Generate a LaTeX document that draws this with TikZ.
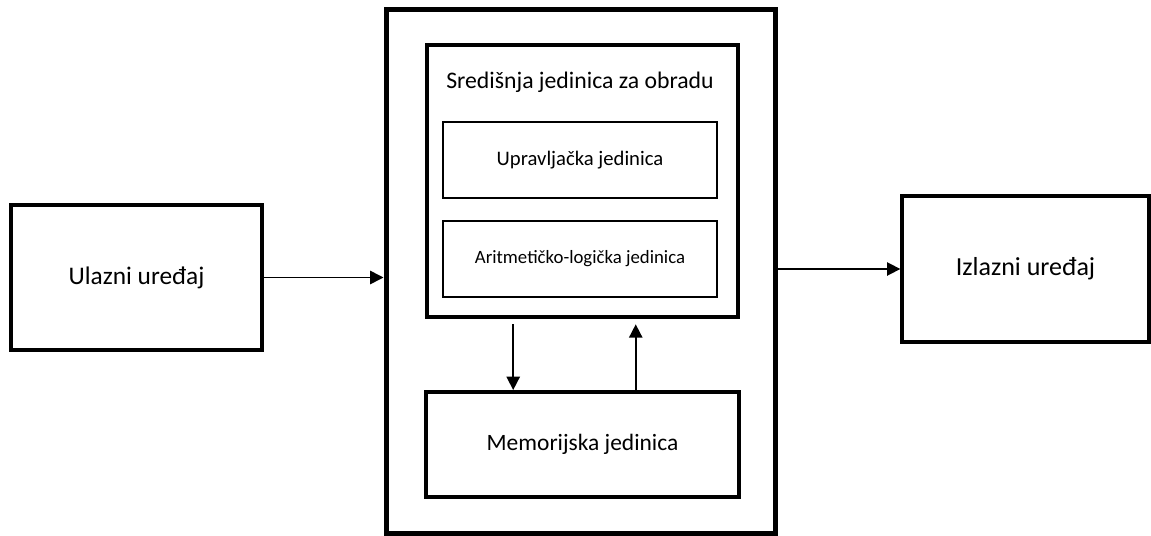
\documentclass[tikz,border=0pt]{standalone}
\usepackage{fontspec}
\setmainfont{Carlito}
\usetikzlibrary{arrows.meta,calc}
\begin{document}
\begin{tikzpicture}[x=0.75pt,y=-0.75pt,
  box/.style={draw,rectangle,inner sep=0pt,fill=none},
  arr/.style={-{Triangle[length=10pt,width=10pt]},line width=1.2pt}]
\useasboundingbox[fill=white] (0,0) rectangle (1151,535);
% outer
\node[box,line width=3.75pt,minimum width=291.75pt,minimum height=392.25pt] (outer) at (580.5,271.5) {};
% left and right
\node[box,line width=2.5pt,minimum width=188.25pt,minimum height=108.75pt,font=\fontsize{19pt}{22pt}\selectfont] (lbox) at (136.5,277.5) {Ulazni uređaj};
\node[box,line width=2.5pt,minimum width=185.25pt,minimum height=109.5pt,font=\fontsize{19.5pt}{22pt}\selectfont] (rbox) at (1025.5,269) {Izlazni uređaj};
% cpu
\node[box,line width=3pt,minimum width=233.25pt,minimum height=204pt] (cpu) at (582.5,181) {};
\node[inner sep=0pt,font=\fontsize{17.8pt}{20pt}\selectfont] (title) at (580,82) {Središnja jedinica za obradu};
\node[box,line width=2.2pt,minimum width=205.5pt,minimum height=57pt,font=\fontsize{15.5pt}{18pt}\selectfont] (upr) at (580,160) {Upravljačka jedinica};
\node[box,line width=2.2pt,minimum width=205.5pt,minimum height=57pt,font=\fontsize{14.1pt}{17pt}\selectfont] (alu) at (580,259) {Aritmetičko-logička jedinica};
% memory
\node[box,line width=3pt,minimum width=234.75pt,minimum height=78.75pt,font=\fontsize{17.6pt}{20pt}\selectfont] (mem) at (582.5,444.5) {Memorijska jedinica};
% arrows
\draw[arr] (lbox.east) -- (lbox.east -| outer.west);
\draw[arr] (rbox.west -| outer.east) -- (rbox.west);
\coordinate (d1) at ($(cpu.south west)!0.28!(cpu.south east)$);
\coordinate (u1) at ($(cpu.south west)!0.669!(cpu.south east)$);
\draw[arr,shorten <=4pt] (d1) -- (d1 |- mem.north);
\draw[arr,shorten >=4pt] (u1 |- mem.north) -- (u1);
\end{tikzpicture}
\end{document}
